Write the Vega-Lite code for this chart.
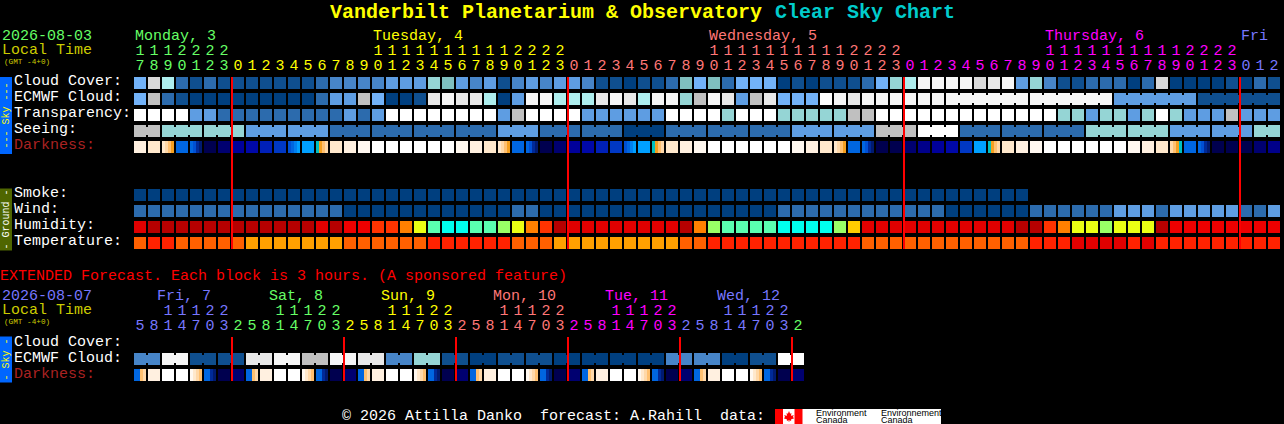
{"$schema":"https://vega.github.io/schema/vega-lite/v6.json","width":1284,"height":424,"autosize":{"type":"fit","contains":"padding"},"padding":0,"background":"#000000","config":{"view":{"stroke":null}},
"datasets":{"digits":[
{"r":"H1","i":0,"t":"7","k":"g"},{"r":"H1","i":1,"t":"8","k":"g"},{"r":"H1","i":2,"t":"9","k":"g"},{"r":"H1","i":3,"t":"0","k":"g"},{"r":"H1","i":4,"t":"1","k":"g"},{"r":"H1","i":5,"t":"2","k":"g"},{"r":"H1","i":6,"t":"3","k":"g"},
{"r":"H1","i":7,"t":"0","k":"y"},{"r":"H1","i":8,"t":"1","k":"y"},{"r":"H1","i":9,"t":"2","k":"y"},{"r":"H1","i":10,"t":"3","k":"y"},{"r":"H1","i":11,"t":"4","k":"y"},{"r":"H1","i":12,"t":"5","k":"y"},{"r":"H1","i":13,"t":"6","k":"y"},{"r":"H1","i":14,"t":"7","k":"y"},{"r":"H1","i":15,"t":"8","k":"y"},{"r":"H1","i":16,"t":"9","k":"y"},{"r":"H1","i":17,"t":"0","k":"y"},{"r":"H1","i":18,"t":"1","k":"y"},{"r":"H1","i":19,"t":"2","k":"y"},{"r":"H1","i":20,"t":"3","k":"y"},{"r":"H1","i":21,"t":"4","k":"y"},{"r":"H1","i":22,"t":"5","k":"y"},{"r":"H1","i":23,"t":"6","k":"y"},{"r":"H1","i":24,"t":"7","k":"y"},{"r":"H1","i":25,"t":"8","k":"y"},{"r":"H1","i":26,"t":"9","k":"y"},{"r":"H1","i":27,"t":"0","k":"y"},{"r":"H1","i":28,"t":"1","k":"y"},{"r":"H1","i":29,"t":"2","k":"y"},{"r":"H1","i":30,"t":"3","k":"y"},
{"r":"H1","i":31,"t":"0","k":"s"},{"r":"H1","i":32,"t":"1","k":"s"},{"r":"H1","i":33,"t":"2","k":"s"},{"r":"H1","i":34,"t":"3","k":"s"},{"r":"H1","i":35,"t":"4","k":"s"},{"r":"H1","i":36,"t":"5","k":"s"},{"r":"H1","i":37,"t":"6","k":"s"},{"r":"H1","i":38,"t":"7","k":"s"},{"r":"H1","i":39,"t":"8","k":"s"},{"r":"H1","i":40,"t":"9","k":"s"},{"r":"H1","i":41,"t":"0","k":"s"},{"r":"H1","i":42,"t":"1","k":"s"},{"r":"H1","i":43,"t":"2","k":"s"},{"r":"H1","i":44,"t":"3","k":"s"},{"r":"H1","i":45,"t":"4","k":"s"},{"r":"H1","i":46,"t":"5","k":"s"},{"r":"H1","i":47,"t":"6","k":"s"},{"r":"H1","i":48,"t":"7","k":"s"},{"r":"H1","i":49,"t":"8","k":"s"},{"r":"H1","i":50,"t":"9","k":"s"},{"r":"H1","i":51,"t":"0","k":"s"},{"r":"H1","i":52,"t":"1","k":"s"},{"r":"H1","i":53,"t":"2","k":"s"},{"r":"H1","i":54,"t":"3","k":"s"},
{"r":"H1","i":55,"t":"0","k":"m"},{"r":"H1","i":56,"t":"1","k":"m"},{"r":"H1","i":57,"t":"2","k":"m"},{"r":"H1","i":58,"t":"3","k":"m"},{"r":"H1","i":59,"t":"4","k":"m"},{"r":"H1","i":60,"t":"5","k":"m"},{"r":"H1","i":61,"t":"6","k":"m"},{"r":"H1","i":62,"t":"7","k":"m"},{"r":"H1","i":63,"t":"8","k":"m"},{"r":"H1","i":64,"t":"9","k":"m"},{"r":"H1","i":65,"t":"0","k":"m"},{"r":"H1","i":66,"t":"1","k":"m"},{"r":"H1","i":67,"t":"2","k":"m"},{"r":"H1","i":68,"t":"3","k":"m"},{"r":"H1","i":69,"t":"4","k":"m"},{"r":"H1","i":70,"t":"5","k":"m"},{"r":"H1","i":71,"t":"6","k":"m"},{"r":"H1","i":72,"t":"7","k":"m"},{"r":"H1","i":73,"t":"8","k":"m"},{"r":"H1","i":74,"t":"9","k":"m"},{"r":"H1","i":75,"t":"0","k":"m"},{"r":"H1","i":76,"t":"1","k":"m"},{"r":"H1","i":77,"t":"2","k":"m"},{"r":"H1","i":78,"t":"3","k":"m"},
{"r":"H1","i":79,"t":"0","k":"v"},{"r":"H1","i":80,"t":"1","k":"v"},{"r":"H1","i":81,"t":"2","k":"v"},
{"r":"H2","i":0,"t":"1","k":"g"},{"r":"H2","i":1,"t":"1","k":"g"},{"r":"H2","i":2,"t":"1","k":"g"},{"r":"H2","i":3,"t":"2","k":"g"},{"r":"H2","i":4,"t":"2","k":"g"},{"r":"H2","i":5,"t":"2","k":"g"},{"r":"H2","i":6,"t":"2","k":"g"},
{"r":"H2","i":17,"t":"1","k":"y"},{"r":"H2","i":18,"t":"1","k":"y"},{"r":"H2","i":19,"t":"1","k":"y"},{"r":"H2","i":20,"t":"1","k":"y"},{"r":"H2","i":21,"t":"1","k":"y"},{"r":"H2","i":22,"t":"1","k":"y"},{"r":"H2","i":23,"t":"1","k":"y"},{"r":"H2","i":24,"t":"1","k":"y"},{"r":"H2","i":25,"t":"1","k":"y"},{"r":"H2","i":26,"t":"1","k":"y"},{"r":"H2","i":27,"t":"2","k":"y"},{"r":"H2","i":28,"t":"2","k":"y"},{"r":"H2","i":29,"t":"2","k":"y"},{"r":"H2","i":30,"t":"2","k":"y"},
{"r":"H2","i":41,"t":"1","k":"s"},{"r":"H2","i":42,"t":"1","k":"s"},{"r":"H2","i":43,"t":"1","k":"s"},{"r":"H2","i":44,"t":"1","k":"s"},{"r":"H2","i":45,"t":"1","k":"s"},{"r":"H2","i":46,"t":"1","k":"s"},{"r":"H2","i":47,"t":"1","k":"s"},{"r":"H2","i":48,"t":"1","k":"s"},{"r":"H2","i":49,"t":"1","k":"s"},{"r":"H2","i":50,"t":"1","k":"s"},{"r":"H2","i":51,"t":"2","k":"s"},{"r":"H2","i":52,"t":"2","k":"s"},{"r":"H2","i":53,"t":"2","k":"s"},{"r":"H2","i":54,"t":"2","k":"s"},
{"r":"H2","i":65,"t":"1","k":"m"},{"r":"H2","i":66,"t":"1","k":"m"},{"r":"H2","i":67,"t":"1","k":"m"},{"r":"H2","i":68,"t":"1","k":"m"},{"r":"H2","i":69,"t":"1","k":"m"},{"r":"H2","i":70,"t":"1","k":"m"},{"r":"H2","i":71,"t":"1","k":"m"},{"r":"H2","i":72,"t":"1","k":"m"},{"r":"H2","i":73,"t":"1","k":"m"},{"r":"H2","i":74,"t":"1","k":"m"},{"r":"H2","i":75,"t":"2","k":"m"},{"r":"H2","i":76,"t":"2","k":"m"},{"r":"H2","i":77,"t":"2","k":"m"},{"r":"H2","i":78,"t":"2","k":"m"},
{"r":"X2","i":2,"t":"1","k":"v"},{"r":"X2","i":3,"t":"1","k":"v"},{"r":"X2","i":4,"t":"1","k":"v"},{"r":"X2","i":5,"t":"2","k":"v"},{"r":"X2","i":6,"t":"2","k":"v"},
{"r":"X2","i":10,"t":"1","k":"g"},{"r":"X2","i":11,"t":"1","k":"g"},{"r":"X2","i":12,"t":"1","k":"g"},{"r":"X2","i":13,"t":"2","k":"g"},{"r":"X2","i":14,"t":"2","k":"g"},
{"r":"X2","i":18,"t":"1","k":"y"},{"r":"X2","i":19,"t":"1","k":"y"},{"r":"X2","i":20,"t":"1","k":"y"},{"r":"X2","i":21,"t":"2","k":"y"},{"r":"X2","i":22,"t":"2","k":"y"},
{"r":"X2","i":26,"t":"1","k":"s"},{"r":"X2","i":27,"t":"1","k":"s"},{"r":"X2","i":28,"t":"1","k":"s"},{"r":"X2","i":29,"t":"2","k":"s"},{"r":"X2","i":30,"t":"2","k":"s"},
{"r":"X2","i":34,"t":"1","k":"m"},{"r":"X2","i":35,"t":"1","k":"m"},{"r":"X2","i":36,"t":"1","k":"m"},{"r":"X2","i":37,"t":"2","k":"m"},{"r":"X2","i":38,"t":"2","k":"m"},
{"r":"X2","i":42,"t":"1","k":"v"},{"r":"X2","i":43,"t":"1","k":"v"},{"r":"X2","i":44,"t":"1","k":"v"},{"r":"X2","i":45,"t":"2","k":"v"},{"r":"X2","i":46,"t":"2","k":"v"},
{"r":"X1","i":0,"t":"5","k":"v"},{"r":"X1","i":1,"t":"8","k":"v"},{"r":"X1","i":2,"t":"1","k":"v"},{"r":"X1","i":3,"t":"4","k":"v"},{"r":"X1","i":4,"t":"7","k":"v"},{"r":"X1","i":5,"t":"0","k":"v"},{"r":"X1","i":6,"t":"3","k":"v"},
{"r":"X1","i":7,"t":"2","k":"g"},{"r":"X1","i":8,"t":"5","k":"g"},{"r":"X1","i":9,"t":"8","k":"g"},{"r":"X1","i":10,"t":"1","k":"g"},{"r":"X1","i":11,"t":"4","k":"g"},{"r":"X1","i":12,"t":"7","k":"g"},{"r":"X1","i":13,"t":"0","k":"g"},{"r":"X1","i":14,"t":"3","k":"g"},
{"r":"X1","i":15,"t":"2","k":"y"},{"r":"X1","i":16,"t":"5","k":"y"},{"r":"X1","i":17,"t":"8","k":"y"},{"r":"X1","i":18,"t":"1","k":"y"},{"r":"X1","i":19,"t":"4","k":"y"},{"r":"X1","i":20,"t":"7","k":"y"},{"r":"X1","i":21,"t":"0","k":"y"},{"r":"X1","i":22,"t":"3","k":"y"},
{"r":"X1","i":23,"t":"2","k":"s"},{"r":"X1","i":24,"t":"5","k":"s"},{"r":"X1","i":25,"t":"8","k":"s"},{"r":"X1","i":26,"t":"1","k":"s"},{"r":"X1","i":27,"t":"4","k":"s"},{"r":"X1","i":28,"t":"7","k":"s"},{"r":"X1","i":29,"t":"0","k":"s"},{"r":"X1","i":30,"t":"3","k":"s"},
{"r":"X1","i":31,"t":"2","k":"m"},{"r":"X1","i":32,"t":"5","k":"m"},{"r":"X1","i":33,"t":"8","k":"m"},{"r":"X1","i":34,"t":"1","k":"m"},{"r":"X1","i":35,"t":"4","k":"m"},{"r":"X1","i":36,"t":"7","k":"m"},{"r":"X1","i":37,"t":"0","k":"m"},{"r":"X1","i":38,"t":"3","k":"m"},
{"r":"X1","i":39,"t":"2","k":"v"},{"r":"X1","i":40,"t":"5","k":"v"},{"r":"X1","i":41,"t":"8","k":"v"},{"r":"X1","i":42,"t":"1","k":"v"},{"r":"X1","i":43,"t":"4","k":"v"},{"r":"X1","i":44,"t":"7","k":"v"},{"r":"X1","i":45,"t":"0","k":"v"},{"r":"X1","i":46,"t":"3","k":"v"},{"r":"X1","i":47,"t":"2","k":"g"}
]},
"encoding":{"x":{"field":"i","type":"ordinal","axis":null,"scale":{"type":"band","domain":[-10,-9,-8,-7,-6,-5,-4,-3,-2,-1,0,1,2,3,4,5,6,7,8,9,10,11,12,13,14,15,16,17,18,19,20,21,22,23,24,25,26,27,28,29,30,31,32,33,34,35,36,37,38,39,40,41,42,43,44,45,46,47,48,49,50,51,52,53,54,55,56,57,58,59,60,61,62,63,64,65,66,67,68,69,70,71,72,73,74,75,76,77,78,79,80,81,82],"range":[-6,1294],"paddingInner":0.142857,"paddingOuter":0}},
"y":{"field":"r","type":"ordinal","axis":null,"scale":{"type":"band","domain":[0,1,2,"T",4,5,6,7,"D1",9,10,11,"H2",13,14,"G1","H1",17,18,19,"CC",21,22,23,"EC",25,26,27,"TR",29,30,31,"SE",33,34,35,"DK",37,38,39,"RL",41,42,43,44,45,46,47,"SM",49,50,51,"WI",53,"GB",55,"HU",57,58,59,"TE",61,62,63,64,65,66,67,"XT",69,70,71,72,"D2",74,75,76,"X2",78,79,"G2","X1",82,83,84,"XC",86,87,88,"XE",90,91,92,"XD",94,95,96,97,98,99,100,101,"L1","F","L2",105],"range":[1,425],"paddingInner":0,"paddingOuter":0}},
"color":{"field":"k","type":"nominal","legend":null,"scale":{"domain":["0","1","2","3","4","5","6","7","8","9","A","B","C","W","e","d","E","O","F","Y","L","H","G","c","p","q","r","d1","d2","d3","d4","d5","d6","b0","b1","b2","b3","b4","b5","b6","b7","b8","b9","n","t","k1","k2","w","g","y","s","m","v","l","R","x","C2","K","S","U"],"range":["#003f7f","#0f4f8f","#2c6bad","#4785c8","#5e9de2","#72b2f8","#7fbfbf","#95d5d5","#aeeeee","#c0c0c0","#d9d9d9","#e8e8e8","#f6f6f6","#ffffff","#e00000","#b60000","#ee0000","#ff3300","#ff8000","#ffcc00","#eaff14","#99ff66","#5affb0","#00ffee","#ff6000","#ff2200","#ffa000","#fff8f0","#fff0e0","#ffe8cc","#ffd8a8","#ffc070","#f5a020","#00a0ff","#0080f0","#0066e0","#0050d4","#0038c4","#0020b8","#0008a8","#00009a","#00008a","#000070","#00004f","#00c0c0","#002a98","#001a70","#ffffff","#66ff66","#ffff00","#ff7777","#ff00ff","#7777ff","#cccc00","#ff0000","#aa2222","#00cccc","#000000","#0066ff","#4f6600"]}}},
"layer":[
{"mark":{"type":"rect","height":12},"data":{"values":[
{"r":"CC","i":0,"k":"5"},{"r":"CC","i":1,"k":"A"},{"r":"CC","i":2,"k":"8"},{"r":"CC","i":3,"k":"2"},{"r":"CC","i":4,"k":"1"},{"r":"CC","i":5,"k":"2"},{"r":"CC","i":6,"k":"1"},{"r":"CC","i":7,"k":"1"},{"r":"CC","i":8,"k":"1"},{"r":"CC","i":9,"k":"1"},{"r":"CC","i":10,"k":"1"},{"r":"CC","i":11,"k":"1"},{"r":"CC","i":12,"k":"1"},{"r":"CC","i":13,"k":"2"},{"r":"CC","i":14,"k":"3"},{"r":"CC","i":15,"k":"3"},{"r":"CC","i":16,"k":"3"},{"r":"CC","i":17,"k":"3"},{"r":"CC","i":18,"k":"4"},{"r":"CC","i":19,"k":"4"},{"r":"CC","i":20,"k":"4"},{"r":"CC","i":21,"k":"7"},{"r":"CC","i":22,"k":"6"},{"r":"CC","i":23,"k":"4"},{"r":"CC","i":24,"k":"3"},{"r":"CC","i":25,"k":"4"},{"r":"CC","i":26,"k":"1"},{"r":"CC","i":27,"k":"3"},{"r":"CC","i":28,"k":"4"},{"r":"CC","i":29,"k":"3"},{"r":"CC","i":30,"k":"4"},{"r":"CC","i":31,"k":"4"},{"r":"CC","i":32,"k":"3"},{"r":"CC","i":33,"k":"1"},{"r":"CC","i":34,"k":"1"},{"r":"CC","i":35,"k":"0"},{"r":"CC","i":36,"k":"1"},{"r":"CC","i":37,"k":"1"},{"r":"CC","i":38,"k":"2"},{"r":"CC","i":39,"k":"6"},{"r":"CC","i":40,"k":"5"},{"r":"CC","i":41,"k":"6"},{"r":"CC","i":42,"k":"2"},{"r":"CC","i":43,"k":"5"},{"r":"CC","i":44,"k":"5"},{"r":"CC","i":45,"k":"5"},{"r":"CC","i":46,"k":"0"},{"r":"CC","i":47,"k":"1"},{"r":"CC","i":48,"k":"0"},{"r":"CC","i":49,"k":"1"},{"r":"CC","i":50,"k":"1"},{"r":"CC","i":51,"k":"1"},{"r":"CC","i":52,"k":"2"},{"r":"CC","i":53,"k":"5"},{"r":"CC","i":54,"k":"7"},{"r":"CC","i":55,"k":"8"},{"r":"CC","i":56,"k":"C"},{"r":"CC","i":57,"k":"C"},{"r":"CC","i":58,"k":"C"},{"r":"CC","i":59,"k":"C"},{"r":"CC","i":60,"k":"A"},{"r":"CC","i":61,"k":"B"},{"r":"CC","i":62,"k":"C"},{"r":"CC","i":63,"k":"4"},{"r":"CC","i":64,"k":"7"},{"r":"CC","i":65,"k":"3"},{"r":"CC","i":66,"k":"1"},{"r":"CC","i":67,"k":"1"},{"r":"CC","i":68,"k":"2"},{"r":"CC","i":69,"k":"2"},{"r":"CC","i":70,"k":"2"},{"r":"CC","i":71,"k":"0"},{"r":"CC","i":72,"k":"2"},{"r":"CC","i":73,"k":"A"},{"r":"CC","i":74,"k":"0"},{"r":"CC","i":75,"k":"0"},{"r":"CC","i":76,"k":"0"},{"r":"CC","i":77,"k":"0"},{"r":"CC","i":78,"k":"1"},{"r":"CC","i":79,"k":"0"},{"r":"CC","i":80,"k":"2"},{"r":"CC","i":81,"k":"1"},
{"r":"EC","i":0,"k":"5"},{"r":"EC","i":1,"k":"9"},{"r":"EC","i":2,"k":"2"},{"r":"EC","i":3,"k":"1"},{"r":"EC","i":4,"k":"0"},{"r":"EC","i":5,"k":"0"},{"r":"EC","i":6,"k":"0"},{"r":"EC","i":7,"k":"0"},{"r":"EC","i":8,"k":"0"},{"r":"EC","i":9,"k":"0"},{"r":"EC","i":10,"k":"0"},{"r":"EC","i":11,"k":"0"},{"r":"EC","i":12,"k":"0"},{"r":"EC","i":13,"k":"2"},{"r":"EC","i":14,"k":"4"},{"r":"EC","i":15,"k":"4"},{"r":"EC","i":16,"k":"9"},{"r":"EC","i":17,"k":"5"},{"r":"EC","i":18,"k":"0"},{"r":"EC","i":19,"k":"0"},{"r":"EC","i":20,"k":"1"},{"r":"EC","i":21,"k":"B"},{"r":"EC","i":22,"k":"C"},{"r":"EC","i":23,"k":"B"},{"r":"EC","i":24,"k":"B"},{"r":"EC","i":25,"k":"8"},{"r":"EC","i":26,"k":"0"},{"r":"EC","i":27,"k":"4"},{"r":"EC","i":28,"k":"C"},{"r":"EC","i":29,"k":"C"},{"r":"EC","i":30,"k":"8"},{"r":"EC","i":31,"k":"8"},{"r":"EC","i":32,"k":"8"},{"r":"EC","i":33,"k":"B"},{"r":"EC","i":34,"k":"C"},{"r":"EC","i":35,"k":"B"},{"r":"EC","i":36,"k":"8"},{"r":"EC","i":37,"k":"C"},{"r":"EC","i":38,"k":"C"},{"r":"EC","i":39,"k":"7"},{"r":"EC","i":40,"k":"9"},{"r":"EC","i":41,"k":"C"},{"r":"EC","i":42,"k":"B"},{"r":"EC","i":43,"k":"4"},{"r":"EC","i":44,"k":"9"},{"r":"EC","i":45,"k":"B"},{"r":"EC","i":46,"k":"5"},{"r":"EC","i":47,"k":"5"},{"r":"EC","i":48,"k":"5"},{"r":"EC","i":49,"k":"W"},{"r":"EC","i":50,"k":"C"},{"r":"EC","i":51,"k":"B"},{"r":"EC","i":52,"k":"C"},{"r":"EC","i":53,"k":"C"},{"r":"EC","i":54,"k":"C"},{"r":"EC","i":55,"k":"C"},{"r":"EC","i":56,"k":"C"},{"r":"EC","i":57,"k":"C"},{"r":"EC","i":58,"k":"C"},{"r":"EC","i":59,"k":"C"},{"r":"EC","i":60,"k":"C"},{"r":"EC","i":61,"k":"C"},{"r":"EC","i":62,"k":"C"},{"r":"EC","i":63,"k":"C"},{"r":"EC","i":64,"k":"C"},{"r":"EC","i":65,"k":"C"},{"r":"EC","i":66,"k":"C"},{"r":"EC","i":67,"k":"C"},{"r":"EC","i":68,"k":"C"},{"r":"EC","i":69,"k":"C"},{"r":"EC","i":70,"k":"4"},{"r":"EC","i":71,"k":"4"},{"r":"EC","i":72,"k":"4"},{"r":"EC","i":73,"k":"4"},{"r":"EC","i":74,"k":"4"},{"r":"EC","i":75,"k":"4"},{"r":"EC","i":76,"k":"1"},{"r":"EC","i":77,"k":"1"},{"r":"EC","i":78,"k":"1"},{"r":"EC","i":79,"k":"1"},{"r":"EC","i":80,"k":"1"},{"r":"EC","i":81,"k":"1"},
{"r":"TR","i":0,"k":"W"},{"r":"TR","i":1,"k":"W"},{"r":"TR","i":2,"k":"W"},{"r":"TR","i":3,"k":"W"},{"r":"TR","i":4,"k":"4"},{"r":"TR","i":5,"k":"4"},{"r":"TR","i":6,"k":"2"},{"r":"TR","i":7,"k":"2"},{"r":"TR","i":8,"k":"2"},{"r":"TR","i":9,"k":"2"},{"r":"TR","i":10,"k":"2"},{"r":"TR","i":11,"k":"2"},{"r":"TR","i":12,"k":"2"},{"r":"TR","i":13,"k":"2"},{"r":"TR","i":14,"k":"2"},{"r":"TR","i":15,"k":"4"},{"r":"TR","i":16,"k":"2"},{"r":"TR","i":17,"k":"4"},{"r":"TR","i":18,"k":"W"},{"r":"TR","i":19,"k":"W"},{"r":"TR","i":20,"k":"W"},{"r":"TR","i":21,"k":"W"},{"r":"TR","i":22,"k":"W"},{"r":"TR","i":23,"k":"W"},{"r":"TR","i":24,"k":"W"},{"r":"TR","i":25,"k":"W"},{"r":"TR","i":26,"k":"4"},{"r":"TR","i":27,"k":"9"},{"r":"TR","i":28,"k":"W"},{"r":"TR","i":29,"k":"W"},{"r":"TR","i":30,"k":"W"},{"r":"TR","i":31,"k":"W"},{"r":"TR","i":32,"k":"4"},{"r":"TR","i":33,"k":"4"},{"r":"TR","i":34,"k":"4"},{"r":"TR","i":35,"k":"4"},{"r":"TR","i":36,"k":"4"},{"r":"TR","i":37,"k":"4"},{"r":"TR","i":38,"k":"W"},{"r":"TR","i":39,"k":"W"},{"r":"TR","i":40,"k":"W"},{"r":"TR","i":41,"k":"W"},{"r":"TR","i":42,"k":"7"},{"r":"TR","i":43,"k":"W"},{"r":"TR","i":44,"k":"W"},{"r":"TR","i":45,"k":"W"},{"r":"TR","i":46,"k":"7"},{"r":"TR","i":47,"k":"7"},{"r":"TR","i":48,"k":"7"},{"r":"TR","i":49,"k":"7"},{"r":"TR","i":50,"k":"7"},{"r":"TR","i":51,"k":"9"},{"r":"TR","i":52,"k":"9"},{"r":"TR","i":53,"k":"W"},{"r":"TR","i":54,"k":"W"},{"r":"TR","i":55,"k":"W"},{"r":"TR","i":56,"k":"W"},{"r":"TR","i":57,"k":"W"},{"r":"TR","i":58,"k":"W"},{"r":"TR","i":59,"k":"W"},{"r":"TR","i":60,"k":"W"},{"r":"TR","i":61,"k":"W"},{"r":"TR","i":62,"k":"W"},{"r":"TR","i":63,"k":"W"},{"r":"TR","i":64,"k":"W"},{"r":"TR","i":65,"k":"W"},{"r":"TR","i":66,"k":"7"},{"r":"TR","i":67,"k":"7"},{"r":"TR","i":68,"k":"4"},{"r":"TR","i":69,"k":"7"},{"r":"TR","i":70,"k":"7"},{"r":"TR","i":71,"k":"4"},{"r":"TR","i":72,"k":"7"},{"r":"TR","i":73,"k":"W"},{"r":"TR","i":74,"k":"7"},{"r":"TR","i":75,"k":"4"},{"r":"TR","i":76,"k":"4"},{"r":"TR","i":77,"k":"4"},{"r":"TR","i":78,"k":"9"},{"r":"TR","i":79,"k":"4"},{"r":"TR","i":80,"k":"4"},{"r":"TR","i":81,"k":"4"},
{"r":"SE","i":0,"k":"9"},{"r":"SE","i":1,"k":"9"},{"r":"SE","i":2,"k":"7"},{"r":"SE","i":3,"k":"7"},{"r":"SE","i":4,"k":"7"},{"r":"SE","i":5,"k":"7"},{"r":"SE","i":6,"k":"7"},{"r":"SE","i":7,"k":"7"},{"r":"SE","i":8,"k":"4"},{"r":"SE","i":9,"k":"4"},{"r":"SE","i":10,"k":"4"},{"r":"SE","i":11,"k":"4"},{"r":"SE","i":12,"k":"4"},{"r":"SE","i":13,"k":"4"},{"r":"SE","i":14,"k":"2"},{"r":"SE","i":15,"k":"2"},{"r":"SE","i":16,"k":"2"},{"r":"SE","i":17,"k":"2"},{"r":"SE","i":18,"k":"2"},{"r":"SE","i":19,"k":"2"},{"r":"SE","i":20,"k":"2"},{"r":"SE","i":21,"k":"2"},{"r":"SE","i":22,"k":"2"},{"r":"SE","i":23,"k":"2"},{"r":"SE","i":24,"k":"2"},{"r":"SE","i":25,"k":"2"},{"r":"SE","i":26,"k":"4"},{"r":"SE","i":27,"k":"4"},{"r":"SE","i":28,"k":"4"},{"r":"SE","i":29,"k":"2"},{"r":"SE","i":30,"k":"2"},{"r":"SE","i":31,"k":"2"},{"r":"SE","i":32,"k":"2"},{"r":"SE","i":33,"k":"2"},{"r":"SE","i":34,"k":"2"},{"r":"SE","i":35,"k":"0"},{"r":"SE","i":36,"k":"0"},{"r":"SE","i":37,"k":"0"},{"r":"SE","i":38,"k":"2"},{"r":"SE","i":39,"k":"2"},{"r":"SE","i":40,"k":"2"},{"r":"SE","i":41,"k":"2"},{"r":"SE","i":42,"k":"2"},{"r":"SE","i":43,"k":"2"},{"r":"SE","i":44,"k":"2"},{"r":"SE","i":45,"k":"2"},{"r":"SE","i":46,"k":"2"},{"r":"SE","i":47,"k":"4"},{"r":"SE","i":48,"k":"4"},{"r":"SE","i":49,"k":"4"},{"r":"SE","i":50,"k":"4"},{"r":"SE","i":51,"k":"4"},{"r":"SE","i":52,"k":"4"},{"r":"SE","i":53,"k":"9"},{"r":"SE","i":54,"k":"9"},{"r":"SE","i":55,"k":"9"},{"r":"SE","i":56,"k":"W"},{"r":"SE","i":57,"k":"W"},{"r":"SE","i":58,"k":"W"},{"r":"SE","i":59,"k":"2"},{"r":"SE","i":60,"k":"2"},{"r":"SE","i":61,"k":"2"},{"r":"SE","i":62,"k":"2"},{"r":"SE","i":63,"k":"2"},{"r":"SE","i":64,"k":"2"},{"r":"SE","i":65,"k":"2"},{"r":"SE","i":66,"k":"2"},{"r":"SE","i":67,"k":"2"},{"r":"SE","i":68,"k":"7"},{"r":"SE","i":69,"k":"7"},{"r":"SE","i":70,"k":"7"},{"r":"SE","i":71,"k":"7"},{"r":"SE","i":72,"k":"7"},{"r":"SE","i":73,"k":"7"},{"r":"SE","i":74,"k":"4"},{"r":"SE","i":75,"k":"4"},{"r":"SE","i":76,"k":"4"},{"r":"SE","i":77,"k":"4"},{"r":"SE","i":78,"k":"4"},{"r":"SE","i":79,"k":"4"},{"r":"SE","i":80,"k":"7"},{"r":"SE","i":81,"k":"7"},
{"r":"DK","i":0,"k":"d2"},{"r":"DK","i":1,"k":"d3"},{"r":"DK","i":3,"k":"b2"},{"r":"DK","i":5,"k":"n"},{"r":"DK","i":6,"k":"b9"},{"r":"DK","i":7,"k":"b7"},{"r":"DK","i":8,"k":"b6"},{"r":"DK","i":9,"k":"b5"},{"r":"DK","i":10,"k":"b4"},{"r":"DK","i":12,"k":"b0"},{"r":"DK","i":14,"k":"d3"},{"r":"DK","i":15,"k":"d2"},{"r":"DK","i":16,"k":"d1"},{"r":"DK","i":17,"k":"W"},{"r":"DK","i":18,"k":"W"},{"r":"DK","i":19,"k":"W"},{"r":"DK","i":20,"k":"W"},{"r":"DK","i":21,"k":"W"},{"r":"DK","i":22,"k":"W"},{"r":"DK","i":23,"k":"d1"},{"r":"DK","i":24,"k":"d2"},{"r":"DK","i":25,"k":"d3"},{"r":"DK","i":27,"k":"b2"},{"r":"DK","i":29,"k":"n"},{"r":"DK","i":30,"k":"b9"},{"r":"DK","i":31,"k":"b7"},{"r":"DK","i":32,"k":"b6"},{"r":"DK","i":33,"k":"b5"},{"r":"DK","i":34,"k":"b4"},{"r":"DK","i":36,"k":"b0"},{"r":"DK","i":38,"k":"d3"},{"r":"DK","i":39,"k":"d2"},{"r":"DK","i":40,"k":"d1"},{"r":"DK","i":41,"k":"W"},{"r":"DK","i":42,"k":"W"},{"r":"DK","i":43,"k":"W"},{"r":"DK","i":44,"k":"W"},{"r":"DK","i":45,"k":"W"},{"r":"DK","i":46,"k":"W"},{"r":"DK","i":47,"k":"d1"},{"r":"DK","i":48,"k":"d2"},{"r":"DK","i":49,"k":"d3"},{"r":"DK","i":51,"k":"b2"},{"r":"DK","i":53,"k":"n"},{"r":"DK","i":54,"k":"n"},{"r":"DK","i":55,"k":"b9"},{"r":"DK","i":56,"k":"b8"},{"r":"DK","i":57,"k":"b7"},{"r":"DK","i":58,"k":"b6"},{"r":"DK","i":59,"k":"b4"},{"r":"DK","i":60,"k":"b0"},{"r":"DK","i":62,"k":"d3"},{"r":"DK","i":63,"k":"d2"},{"r":"DK","i":64,"k":"d1"},{"r":"DK","i":65,"k":"W"},{"r":"DK","i":66,"k":"W"},{"r":"DK","i":67,"k":"W"},{"r":"DK","i":68,"k":"W"},{"r":"DK","i":69,"k":"W"},{"r":"DK","i":70,"k":"W"},{"r":"DK","i":71,"k":"d1"},{"r":"DK","i":72,"k":"d2"},{"r":"DK","i":73,"k":"d3"},{"r":"DK","i":75,"k":"b2"},{"r":"DK","i":77,"k":"n"},{"r":"DK","i":78,"k":"n"},{"r":"DK","i":79,"k":"n"},{"r":"DK","i":80,"k":"b9"},{"r":"DK","i":81,"k":"b8"},
{"r":"SM","i":0,"k":"0"},{"r":"SM","i":1,"k":"0"},{"r":"SM","i":2,"k":"0"},{"r":"SM","i":3,"k":"0"},{"r":"SM","i":4,"k":"0"},{"r":"SM","i":5,"k":"0"},{"r":"SM","i":6,"k":"0"},{"r":"SM","i":7,"k":"0"},{"r":"SM","i":8,"k":"0"},{"r":"SM","i":9,"k":"0"},{"r":"SM","i":10,"k":"0"},{"r":"SM","i":11,"k":"0"},{"r":"SM","i":12,"k":"0"},{"r":"SM","i":13,"k":"0"},{"r":"SM","i":14,"k":"0"},{"r":"SM","i":15,"k":"0"},{"r":"SM","i":16,"k":"0"},{"r":"SM","i":17,"k":"0"},{"r":"SM","i":18,"k":"0"},{"r":"SM","i":19,"k":"0"},{"r":"SM","i":20,"k":"0"},{"r":"SM","i":21,"k":"0"},{"r":"SM","i":22,"k":"0"},{"r":"SM","i":23,"k":"0"},{"r":"SM","i":24,"k":"0"},{"r":"SM","i":25,"k":"0"},{"r":"SM","i":26,"k":"0"},{"r":"SM","i":27,"k":"0"},{"r":"SM","i":28,"k":"0"},{"r":"SM","i":29,"k":"0"},{"r":"SM","i":30,"k":"0"},{"r":"SM","i":31,"k":"0"},{"r":"SM","i":32,"k":"0"},{"r":"SM","i":33,"k":"0"},{"r":"SM","i":34,"k":"0"},{"r":"SM","i":35,"k":"0"},{"r":"SM","i":36,"k":"0"},{"r":"SM","i":37,"k":"0"},{"r":"SM","i":38,"k":"0"},{"r":"SM","i":39,"k":"0"},{"r":"SM","i":40,"k":"0"},{"r":"SM","i":41,"k":"0"},{"r":"SM","i":42,"k":"0"},{"r":"SM","i":43,"k":"0"},{"r":"SM","i":44,"k":"0"},{"r":"SM","i":45,"k":"0"},{"r":"SM","i":46,"k":"0"},{"r":"SM","i":47,"k":"0"},{"r":"SM","i":48,"k":"0"},{"r":"SM","i":49,"k":"0"},{"r":"SM","i":50,"k":"0"},{"r":"SM","i":51,"k":"0"},{"r":"SM","i":52,"k":"0"},{"r":"SM","i":53,"k":"0"},{"r":"SM","i":54,"k":"0"},{"r":"SM","i":55,"k":"0"},{"r":"SM","i":56,"k":"0"},{"r":"SM","i":57,"k":"0"},{"r":"SM","i":58,"k":"0"},{"r":"SM","i":59,"k":"0"},{"r":"SM","i":60,"k":"0"},{"r":"SM","i":61,"k":"0"},{"r":"SM","i":62,"k":"0"},{"r":"SM","i":63,"k":"0"},
{"r":"WI","i":0,"k":"2"},{"r":"WI","i":1,"k":"2"},{"r":"WI","i":2,"k":"2"},{"r":"WI","i":3,"k":"2"},{"r":"WI","i":4,"k":"2"},{"r":"WI","i":5,"k":"2"},{"r":"WI","i":6,"k":"2"},{"r":"WI","i":7,"k":"2"},{"r":"WI","i":8,"k":"2"},{"r":"WI","i":9,"k":"2"},{"r":"WI","i":10,"k":"2"},{"r":"WI","i":11,"k":"2"},{"r":"WI","i":12,"k":"2"},{"r":"WI","i":13,"k":"2"},{"r":"WI","i":14,"k":"2"},{"r":"WI","i":15,"k":"0"},{"r":"WI","i":16,"k":"0"},{"r":"WI","i":17,"k":"0"},{"r":"WI","i":18,"k":"0"},{"r":"WI","i":19,"k":"0"},{"r":"WI","i":20,"k":"0"},{"r":"WI","i":21,"k":"0"},{"r":"WI","i":22,"k":"0"},{"r":"WI","i":23,"k":"0"},{"r":"WI","i":24,"k":"0"},{"r":"WI","i":25,"k":"0"},{"r":"WI","i":26,"k":"0"},{"r":"WI","i":27,"k":"2"},{"r":"WI","i":28,"k":"2"},{"r":"WI","i":29,"k":"0"},{"r":"WI","i":30,"k":"0"},{"r":"WI","i":31,"k":"0"},{"r":"WI","i":32,"k":"0"},{"r":"WI","i":33,"k":"0"},{"r":"WI","i":34,"k":"0"},{"r":"WI","i":35,"k":"0"},{"r":"WI","i":36,"k":"0"},{"r":"WI","i":37,"k":"0"},{"r":"WI","i":38,"k":"0"},{"r":"WI","i":39,"k":"0"},{"r":"WI","i":40,"k":"0"},{"r":"WI","i":41,"k":"0"},{"r":"WI","i":42,"k":"0"},{"r":"WI","i":43,"k":"0"},{"r":"WI","i":44,"k":"0"},{"r":"WI","i":45,"k":"0"},{"r":"WI","i":46,"k":"2"},{"r":"WI","i":47,"k":"2"},{"r":"WI","i":48,"k":"2"},{"r":"WI","i":49,"k":"2"},{"r":"WI","i":50,"k":"2"},{"r":"WI","i":51,"k":"2"},{"r":"WI","i":52,"k":"2"},{"r":"WI","i":53,"k":"2"},{"r":"WI","i":54,"k":"2"},{"r":"WI","i":55,"k":"2"},{"r":"WI","i":56,"k":"2"},{"r":"WI","i":57,"k":"2"},{"r":"WI","i":58,"k":"0"},{"r":"WI","i":59,"k":"0"},{"r":"WI","i":60,"k":"0"},{"r":"WI","i":61,"k":"0"},{"r":"WI","i":62,"k":"0"},{"r":"WI","i":63,"k":"0"},{"r":"WI","i":64,"k":"2"},{"r":"WI","i":65,"k":"2"},{"r":"WI","i":66,"k":"2"},{"r":"WI","i":67,"k":"2"},{"r":"WI","i":68,"k":"2"},{"r":"WI","i":69,"k":"2"},{"r":"WI","i":70,"k":"4"},{"r":"WI","i":71,"k":"4"},{"r":"WI","i":72,"k":"4"},{"r":"WI","i":73,"k":"2"},{"r":"WI","i":74,"k":"4"},{"r":"WI","i":75,"k":"4"},{"r":"WI","i":76,"k":"4"},{"r":"WI","i":77,"k":"4"},{"r":"WI","i":78,"k":"4"},{"r":"WI","i":79,"k":"2"},{"r":"WI","i":80,"k":"2"},{"r":"WI","i":81,"k":"4"},
{"r":"HU","i":0,"k":"e"},{"r":"HU","i":1,"k":"d"},{"r":"HU","i":2,"k":"d"},{"r":"HU","i":3,"k":"d"},{"r":"HU","i":4,"k":"d"},{"r":"HU","i":5,"k":"d"},{"r":"HU","i":6,"k":"d"},{"r":"HU","i":7,"k":"d"},{"r":"HU","i":8,"k":"d"},{"r":"HU","i":9,"k":"d"},{"r":"HU","i":10,"k":"d"},{"r":"HU","i":11,"k":"d"},{"r":"HU","i":12,"k":"d"},{"r":"HU","i":13,"k":"e"},{"r":"HU","i":14,"k":"d"},{"r":"HU","i":15,"k":"E"},{"r":"HU","i":16,"k":"E"},{"r":"HU","i":17,"k":"O"},{"r":"HU","i":18,"k":"O"},{"r":"HU","i":19,"k":"F"},{"r":"HU","i":20,"k":"L"},{"r":"HU","i":21,"k":"G"},{"r":"HU","i":22,"k":"c"},{"r":"HU","i":23,"k":"c"},{"r":"HU","i":24,"k":"G"},{"r":"HU","i":25,"k":"G"},{"r":"HU","i":26,"k":"H"},{"r":"HU","i":27,"k":"L"},{"r":"HU","i":28,"k":"F"},{"r":"HU","i":29,"k":"O"},{"r":"HU","i":30,"k":"d"},{"r":"HU","i":31,"k":"e"},{"r":"HU","i":32,"k":"e"},{"r":"HU","i":33,"k":"e"},{"r":"HU","i":34,"k":"e"},{"r":"HU","i":35,"k":"e"},{"r":"HU","i":36,"k":"e"},{"r":"HU","i":37,"k":"e"},{"r":"HU","i":38,"k":"e"},{"r":"HU","i":39,"k":"d"},{"r":"HU","i":40,"k":"F"},{"r":"HU","i":41,"k":"H"},{"r":"HU","i":42,"k":"G"},{"r":"HU","i":43,"k":"G"},{"r":"HU","i":44,"k":"G"},{"r":"HU","i":45,"k":"G"},{"r":"HU","i":46,"k":"c"},{"r":"HU","i":47,"k":"c"},{"r":"HU","i":48,"k":"c"},{"r":"HU","i":49,"k":"c"},{"r":"HU","i":50,"k":"H"},{"r":"HU","i":51,"k":"Y"},{"r":"HU","i":52,"k":"e"},{"r":"HU","i":53,"k":"e"},{"r":"HU","i":54,"k":"e"},{"r":"HU","i":55,"k":"e"},{"r":"HU","i":56,"k":"e"},{"r":"HU","i":57,"k":"e"},{"r":"HU","i":58,"k":"e"},{"r":"HU","i":59,"k":"e"},{"r":"HU","i":60,"k":"e"},{"r":"HU","i":61,"k":"e"},{"r":"HU","i":62,"k":"e"},{"r":"HU","i":63,"k":"d"},{"r":"HU","i":64,"k":"d"},{"r":"HU","i":65,"k":"O"},{"r":"HU","i":66,"k":"F"},{"r":"HU","i":67,"k":"L"},{"r":"HU","i":68,"k":"L"},{"r":"HU","i":69,"k":"H"},{"r":"HU","i":70,"k":"L"},{"r":"HU","i":71,"k":"L"},{"r":"HU","i":72,"k":"L"},{"r":"HU","i":73,"k":"d"},{"r":"HU","i":74,"k":"E"},{"r":"HU","i":75,"k":"E"},{"r":"HU","i":76,"k":"E"},{"r":"HU","i":77,"k":"E"},{"r":"HU","i":78,"k":"E"},{"r":"HU","i":79,"k":"E"},{"r":"HU","i":80,"k":"E"},{"r":"HU","i":81,"k":"E"},
{"r":"TE","i":0,"k":"p"},{"r":"TE","i":1,"k":"q"},{"r":"TE","i":2,"k":"q"},{"r":"TE","i":3,"k":"p"},{"r":"TE","i":4,"k":"p"},{"r":"TE","i":5,"k":"p"},{"r":"TE","i":6,"k":"p"},{"r":"TE","i":7,"k":"p"},{"r":"TE","i":8,"k":"r"},{"r":"TE","i":9,"k":"r"},{"r":"TE","i":10,"k":"r"},{"r":"TE","i":11,"k":"r"},{"r":"TE","i":12,"k":"r"},{"r":"TE","i":13,"k":"r"},{"r":"TE","i":14,"k":"r"},{"r":"TE","i":15,"k":"p"},{"r":"TE","i":16,"k":"p"},{"r":"TE","i":17,"k":"p"},{"r":"TE","i":18,"k":"p"},{"r":"TE","i":19,"k":"p"},{"r":"TE","i":20,"k":"p"},{"r":"TE","i":21,"k":"q"},{"r":"TE","i":22,"k":"q"},{"r":"TE","i":23,"k":"q"},{"r":"TE","i":24,"k":"q"},{"r":"TE","i":25,"k":"q"},{"r":"TE","i":26,"k":"q"},{"r":"TE","i":27,"k":"p"},{"r":"TE","i":28,"k":"p"},{"r":"TE","i":29,"k":"p"},{"r":"TE","i":30,"k":"r"},{"r":"TE","i":31,"k":"r"},{"r":"TE","i":32,"k":"r"},{"r":"TE","i":33,"k":"r"},{"r":"TE","i":34,"k":"r"},{"r":"TE","i":35,"k":"r"},{"r":"TE","i":36,"k":"r"},{"r":"TE","i":37,"k":"r"},{"r":"TE","i":38,"k":"r"},{"r":"TE","i":39,"k":"p"},{"r":"TE","i":40,"k":"p"},{"r":"TE","i":41,"k":"q"},{"r":"TE","i":42,"k":"q"},{"r":"TE","i":43,"k":"q"},{"r":"TE","i":44,"k":"q"},{"r":"TE","i":45,"k":"q"},{"r":"TE","i":46,"k":"q"},{"r":"TE","i":47,"k":"q"},{"r":"TE","i":48,"k":"q"},{"r":"TE","i":49,"k":"q"},{"r":"TE","i":50,"k":"q"},{"r":"TE","i":51,"k":"q"},{"r":"TE","i":52,"k":"p"},{"r":"TE","i":53,"k":"p"},{"r":"TE","i":54,"k":"p"},{"r":"TE","i":55,"k":"p"},{"r":"TE","i":56,"k":"p"},{"r":"TE","i":57,"k":"p"},{"r":"TE","i":58,"k":"p"},{"r":"TE","i":59,"k":"p"},{"r":"TE","i":60,"k":"p"},{"r":"TE","i":61,"k":"p"},{"r":"TE","i":62,"k":"p"},{"r":"TE","i":63,"k":"p"},{"r":"TE","i":64,"k":"q"},{"r":"TE","i":65,"k":"q"},{"r":"TE","i":66,"k":"q"},{"r":"TE","i":67,"k":"e"},{"r":"TE","i":68,"k":"e"},{"r":"TE","i":69,"k":"e"},{"r":"TE","i":70,"k":"e"},{"r":"TE","i":71,"k":"q"},{"r":"TE","i":72,"k":"e"},{"r":"TE","i":73,"k":"q"},{"r":"TE","i":74,"k":"q"},{"r":"TE","i":75,"k":"q"},{"r":"TE","i":76,"k":"q"},{"r":"TE","i":77,"k":"q"},{"r":"TE","i":78,"k":"q"},{"r":"TE","i":79,"k":"q"},{"r":"TE","i":80,"k":"q"},{"r":"TE","i":81,"k":"q"},
{"r":"XE","i":0,"k":"3"},{"r":"XE","i":1,"k":"3"},{"r":"XE","i":2,"k":"C"},{"r":"XE","i":3,"k":"C"},{"r":"XE","i":4,"k":"1"},{"r":"XE","i":5,"k":"1"},{"r":"XE","i":6,"k":"1"},{"r":"XE","i":7,"k":"1"},{"r":"XE","i":8,"k":"B"},{"r":"XE","i":9,"k":"B"},{"r":"XE","i":10,"k":"C"},{"r":"XE","i":11,"k":"C"},{"r":"XE","i":12,"k":"9"},{"r":"XE","i":13,"k":"9"},{"r":"XE","i":14,"k":"C"},{"r":"XE","i":15,"k":"C"},{"r":"XE","i":16,"k":"B"},{"r":"XE","i":17,"k":"B"},{"r":"XE","i":18,"k":"3"},{"r":"XE","i":19,"k":"3"},{"r":"XE","i":20,"k":"7"},{"r":"XE","i":21,"k":"7"},{"r":"XE","i":22,"k":"1"},{"r":"XE","i":23,"k":"1"},{"r":"XE","i":24,"k":"0"},{"r":"XE","i":25,"k":"0"},{"r":"XE","i":26,"k":"1"},{"r":"XE","i":27,"k":"1"},{"r":"XE","i":28,"k":"1"},{"r":"XE","i":29,"k":"1"},{"r":"XE","i":30,"k":"0"},{"r":"XE","i":31,"k":"0"},{"r":"XE","i":32,"k":"0"},{"r":"XE","i":33,"k":"0"},{"r":"XE","i":34,"k":"0"},{"r":"XE","i":35,"k":"0"},{"r":"XE","i":36,"k":"0"},{"r":"XE","i":37,"k":"0"},{"r":"XE","i":38,"k":"3"},{"r":"XE","i":39,"k":"3"},{"r":"XE","i":40,"k":"3"},{"r":"XE","i":41,"k":"3"},{"r":"XE","i":42,"k":"0"},{"r":"XE","i":43,"k":"0"},{"r":"XE","i":44,"k":"1"},{"r":"XE","i":45,"k":"1"},{"r":"XE","i":46,"k":"W"},{"r":"XE","i":47,"k":"W"},
{"r":"XD","i":1,"k":"d2"},{"r":"XD","i":2,"k":"W"},{"r":"XD","i":3,"k":"W"},{"r":"XD","i":6,"k":"n"},{"r":"XD","i":7,"k":"b9"},{"r":"XD","i":9,"k":"d2"},{"r":"XD","i":10,"k":"W"},{"r":"XD","i":11,"k":"W"},{"r":"XD","i":14,"k":"n"},{"r":"XD","i":15,"k":"b9"},{"r":"XD","i":17,"k":"d2"},{"r":"XD","i":18,"k":"W"},{"r":"XD","i":19,"k":"W"},{"r":"XD","i":22,"k":"n"},{"r":"XD","i":23,"k":"b9"},{"r":"XD","i":25,"k":"d2"},{"r":"XD","i":26,"k":"W"},{"r":"XD","i":27,"k":"W"},{"r":"XD","i":30,"k":"n"},{"r":"XD","i":31,"k":"b9"},{"r":"XD","i":33,"k":"d2"},{"r":"XD","i":34,"k":"W"},{"r":"XD","i":35,"k":"W"},{"r":"XD","i":38,"k":"n"},{"r":"XD","i":39,"k":"b9"},{"r":"XD","i":41,"k":"d2"},{"r":"XD","i":42,"k":"W"},{"r":"XD","i":43,"k":"W"},{"r":"XD","i":46,"k":"n"},{"r":"XD","i":47,"k":"b9"}
]}},
{"mark":{"type":"rect","width":2,"height":8,"xOffset":7},"data":{"values":[
{"r":"SE","i":0,"k":"9"},{"r":"SE","i":2,"k":"7"},{"r":"SE","i":3,"k":"7"},{"r":"SE","i":5,"k":"7"},{"r":"SE","i":6,"k":"7"},{"r":"SE","i":8,"k":"4"},{"r":"SE","i":9,"k":"4"},{"r":"SE","i":11,"k":"4"},{"r":"SE","i":12,"k":"4"},{"r":"SE","i":14,"k":"2"},{"r":"SE","i":15,"k":"2"},{"r":"SE","i":17,"k":"2"},{"r":"SE","i":18,"k":"2"},{"r":"SE","i":20,"k":"2"},{"r":"SE","i":21,"k":"2"},{"r":"SE","i":23,"k":"2"},{"r":"SE","i":24,"k":"2"},{"r":"SE","i":26,"k":"4"},{"r":"SE","i":27,"k":"4"},{"r":"SE","i":29,"k":"2"},{"r":"SE","i":30,"k":"2"},{"r":"SE","i":32,"k":"2"},{"r":"SE","i":33,"k":"2"},{"r":"SE","i":35,"k":"0"},{"r":"SE","i":36,"k":"0"},{"r":"SE","i":38,"k":"2"},{"r":"SE","i":39,"k":"2"},{"r":"SE","i":41,"k":"2"},{"r":"SE","i":42,"k":"2"},{"r":"SE","i":44,"k":"2"},{"r":"SE","i":45,"k":"2"},{"r":"SE","i":47,"k":"4"},{"r":"SE","i":48,"k":"4"},{"r":"SE","i":50,"k":"4"},{"r":"SE","i":51,"k":"4"},{"r":"SE","i":53,"k":"9"},{"r":"SE","i":54,"k":"9"},{"r":"SE","i":56,"k":"W"},{"r":"SE","i":57,"k":"W"},{"r":"SE","i":59,"k":"2"},{"r":"SE","i":60,"k":"2"},{"r":"SE","i":62,"k":"2"},{"r":"SE","i":63,"k":"2"},{"r":"SE","i":65,"k":"2"},{"r":"SE","i":66,"k":"2"},{"r":"SE","i":68,"k":"7"},{"r":"SE","i":69,"k":"7"},{"r":"SE","i":71,"k":"7"},{"r":"SE","i":72,"k":"7"},{"r":"SE","i":74,"k":"4"},{"r":"SE","i":75,"k":"4"},{"r":"SE","i":77,"k":"4"},{"r":"SE","i":78,"k":"4"},{"r":"SE","i":80,"k":"7"},
{"r":"EC","i":58,"k":"C"},{"r":"EC","i":59,"k":"C"},{"r":"EC","i":60,"k":"C"},{"r":"EC","i":61,"k":"C"},{"r":"EC","i":62,"k":"C"},{"r":"EC","i":64,"k":"C"},{"r":"EC","i":65,"k":"C"},{"r":"EC","i":66,"k":"C"},{"r":"EC","i":67,"k":"C"},{"r":"EC","i":68,"k":"C"},{"r":"EC","i":70,"k":"4"},{"r":"EC","i":71,"k":"4"},{"r":"EC","i":72,"k":"4"},{"r":"EC","i":73,"k":"4"},{"r":"EC","i":74,"k":"4"},{"r":"EC","i":76,"k":"1"},{"r":"EC","i":77,"k":"1"},{"r":"EC","i":78,"k":"1"},{"r":"EC","i":79,"k":"1"},{"r":"EC","i":80,"k":"1"},
{"r":"XE","i":0,"k":"3"},{"r":"XE","i":2,"k":"C"},{"r":"XE","i":4,"k":"1"},{"r":"XE","i":6,"k":"1"},{"r":"XE","i":8,"k":"B"},{"r":"XE","i":10,"k":"C"},{"r":"XE","i":12,"k":"9"},{"r":"XE","i":14,"k":"C"},{"r":"XE","i":16,"k":"B"},{"r":"XE","i":18,"k":"3"},{"r":"XE","i":20,"k":"7"},{"r":"XE","i":22,"k":"1"},{"r":"XE","i":24,"k":"0"},{"r":"XE","i":26,"k":"1"},{"r":"XE","i":28,"k":"1"},{"r":"XE","i":30,"k":"0"},{"r":"XE","i":32,"k":"0"},{"r":"XE","i":34,"k":"0"},{"r":"XE","i":36,"k":"0"},{"r":"XE","i":38,"k":"3"},{"r":"XE","i":40,"k":"3"},{"r":"XE","i":42,"k":"0"},{"r":"XE","i":44,"k":"1"},{"r":"XE","i":46,"k":"W"}
]}},
{"mark":{"type":"rect","height":12},"encoding":{"xOffset":{"field":"s","type":"ordinal","scale":{"domain":[0,1,2,3],"paddingInner":0,"paddingOuter":0}}},"data":{"values":[
{"r":"DK","i":2,"s":0,"k":"d3"},{"r":"DK","i":2,"s":1,"k":"d4"},{"r":"DK","i":2,"s":2,"k":"d5"},{"r":"DK","i":2,"s":3,"k":"d6"},{"r":"DK","i":4,"s":0,"k":"b2"},{"r":"DK","i":4,"s":1,"k":"b3"},{"r":"DK","i":4,"s":2,"k":"k1"},{"r":"DK","i":4,"s":3,"k":"k2"},{"r":"DK","i":11,"s":0,"k":"b3"},{"r":"DK","i":11,"s":1,"k":"b2"},{"r":"DK","i":11,"s":2,"k":"b1"},{"r":"DK","i":11,"s":3,"k":"b0"},{"r":"DK","i":13,"s":0,"k":"t"},{"r":"DK","i":13,"s":1,"k":"d6"},{"r":"DK","i":13,"s":2,"k":"d5"},{"r":"DK","i":13,"s":3,"k":"d4"},
{"r":"DK","i":26,"s":0,"k":"d3"},{"r":"DK","i":26,"s":1,"k":"d4"},{"r":"DK","i":26,"s":2,"k":"d5"},{"r":"DK","i":26,"s":3,"k":"d6"},{"r":"DK","i":28,"s":0,"k":"b2"},{"r":"DK","i":28,"s":1,"k":"b3"},{"r":"DK","i":28,"s":2,"k":"k1"},{"r":"DK","i":28,"s":3,"k":"k2"},{"r":"DK","i":35,"s":0,"k":"b3"},{"r":"DK","i":35,"s":1,"k":"b2"},{"r":"DK","i":35,"s":2,"k":"b1"},{"r":"DK","i":35,"s":3,"k":"b0"},{"r":"DK","i":37,"s":0,"k":"t"},{"r":"DK","i":37,"s":1,"k":"d6"},{"r":"DK","i":37,"s":2,"k":"d5"},{"r":"DK","i":37,"s":3,"k":"d4"},
{"r":"DK","i":50,"s":0,"k":"d3"},{"r":"DK","i":50,"s":1,"k":"d4"},{"r":"DK","i":50,"s":2,"k":"d5"},{"r":"DK","i":50,"s":3,"k":"d6"},{"r":"DK","i":52,"s":0,"k":"b2"},{"r":"DK","i":52,"s":1,"k":"b3"},{"r":"DK","i":52,"s":2,"k":"k1"},{"r":"DK","i":52,"s":3,"k":"k2"},{"r":"DK","i":61,"s":0,"k":"t"},{"r":"DK","i":61,"s":1,"k":"d6"},{"r":"DK","i":61,"s":2,"k":"d5"},{"r":"DK","i":61,"s":3,"k":"d4"},
{"r":"DK","i":74,"s":0,"k":"d4"},{"r":"DK","i":74,"s":1,"k":"d5"},{"r":"DK","i":74,"s":2,"k":"d6"},{"r":"DK","i":74,"s":3,"k":"t"},{"r":"DK","i":76,"s":0,"k":"b2"},{"r":"DK","i":76,"s":1,"k":"b3"},{"r":"DK","i":76,"s":2,"k":"k1"},{"r":"DK","i":76,"s":3,"k":"k2"},
{"r":"XD","i":0,"s":0,"k":"b2"},{"r":"XD","i":0,"s":1,"k":"b2"},{"r":"XD","i":0,"s":2,"k":"d5"},{"r":"XD","i":0,"s":3,"k":"d4"},{"r":"XD","i":4,"s":0,"k":"d1"},{"r":"XD","i":4,"s":1,"k":"d3"},{"r":"XD","i":4,"s":2,"k":"d4"},{"r":"XD","i":4,"s":3,"k":"d5"},{"r":"XD","i":5,"s":0,"k":"b2"},{"r":"XD","i":5,"s":1,"k":"b2"},{"r":"XD","i":5,"s":2,"k":"k1"},{"r":"XD","i":5,"s":3,"k":"k2"},
{"r":"XD","i":8,"s":0,"k":"b2"},{"r":"XD","i":8,"s":1,"k":"b2"},{"r":"XD","i":8,"s":2,"k":"d5"},{"r":"XD","i":8,"s":3,"k":"d4"},{"r":"XD","i":12,"s":0,"k":"d1"},{"r":"XD","i":12,"s":1,"k":"d3"},{"r":"XD","i":12,"s":2,"k":"d4"},{"r":"XD","i":12,"s":3,"k":"d5"},{"r":"XD","i":13,"s":0,"k":"b2"},{"r":"XD","i":13,"s":1,"k":"b2"},{"r":"XD","i":13,"s":2,"k":"k1"},{"r":"XD","i":13,"s":3,"k":"k2"},
{"r":"XD","i":16,"s":0,"k":"b2"},{"r":"XD","i":16,"s":1,"k":"b2"},{"r":"XD","i":16,"s":2,"k":"d5"},{"r":"XD","i":16,"s":3,"k":"d4"},{"r":"XD","i":20,"s":0,"k":"d1"},{"r":"XD","i":20,"s":1,"k":"d3"},{"r":"XD","i":20,"s":2,"k":"d4"},{"r":"XD","i":20,"s":3,"k":"d5"},{"r":"XD","i":21,"s":0,"k":"b2"},{"r":"XD","i":21,"s":1,"k":"b2"},{"r":"XD","i":21,"s":2,"k":"k1"},{"r":"XD","i":21,"s":3,"k":"k2"},
{"r":"XD","i":24,"s":0,"k":"b2"},{"r":"XD","i":24,"s":1,"k":"b2"},{"r":"XD","i":24,"s":2,"k":"d5"},{"r":"XD","i":24,"s":3,"k":"d4"},{"r":"XD","i":28,"s":0,"k":"d1"},{"r":"XD","i":28,"s":1,"k":"d3"},{"r":"XD","i":28,"s":2,"k":"d4"},{"r":"XD","i":28,"s":3,"k":"d5"},{"r":"XD","i":29,"s":0,"k":"b2"},{"r":"XD","i":29,"s":1,"k":"b2"},{"r":"XD","i":29,"s":2,"k":"k1"},{"r":"XD","i":29,"s":3,"k":"k2"},
{"r":"XD","i":32,"s":0,"k":"b2"},{"r":"XD","i":32,"s":1,"k":"b2"},{"r":"XD","i":32,"s":2,"k":"d5"},{"r":"XD","i":32,"s":3,"k":"d4"},{"r":"XD","i":36,"s":0,"k":"d1"},{"r":"XD","i":36,"s":1,"k":"d3"},{"r":"XD","i":36,"s":2,"k":"d4"},{"r":"XD","i":36,"s":3,"k":"d5"},{"r":"XD","i":37,"s":0,"k":"b2"},{"r":"XD","i":37,"s":1,"k":"b2"},{"r":"XD","i":37,"s":2,"k":"k1"},{"r":"XD","i":37,"s":3,"k":"k2"},
{"r":"XD","i":40,"s":0,"k":"b2"},{"r":"XD","i":40,"s":1,"k":"b2"},{"r":"XD","i":40,"s":2,"k":"d5"},{"r":"XD","i":40,"s":3,"k":"d4"},{"r":"XD","i":44,"s":0,"k":"d1"},{"r":"XD","i":44,"s":1,"k":"d3"},{"r":"XD","i":44,"s":2,"k":"d4"},{"r":"XD","i":44,"s":3,"k":"d5"},{"r":"XD","i":45,"s":0,"k":"b2"},{"r":"XD","i":45,"s":1,"k":"b2"},{"r":"XD","i":45,"s":2,"k":"k1"},{"r":"XD","i":45,"s":3,"k":"k2"}
]}},
{"mark":{"type":"rect","width":2,"height":172,"xOffset":-6},"data":{"values":[{"r":"RL","i":7,"k":"R"},{"r":"RL","i":31,"k":"R"},{"r":"RL","i":55,"k":"R"},{"r":"RL","i":79,"k":"R"}]}},
{"mark":{"type":"rect","width":2,"height":44,"xOffset":-6},"data":{"values":[{"r":"XE","i":7,"k":"R"},{"r":"XE","i":15,"k":"R"},{"r":"XE","i":23,"k":"R"},{"r":"XE","i":31,"k":"R"},{"r":"XE","i":39,"k":"R"},{"r":"XE","i":47,"k":"R"}]}},
{"mark":{"type":"rect","width":12,"height":77,"xOffset":6,"yOffset":0.5},"data":{"values":[{"r":"TR","i":-10,"k":"S"}]}},
{"mark":{"type":"rect","width":12,"height":62,"xOffset":6,"yOffset":0.5},"data":{"values":[{"r":"GB","i":-10,"k":"U"}]}},
{"mark":{"type":"rect","width":12,"height":46,"xOffset":6,"yOffset":0.5},"data":{"values":[{"r":"XE","i":-10,"k":"S"}]}},
{"mark":{"type":"rect","width":166,"height":15,"xOffset":4,"yOffset":1.5},"data":{"values":[{"r":"F","i":51,"k":"W"}]}},
{"mark":{"type":"rect","width":8,"height":15,"xOffset":-5,"yOffset":1.5},"data":{"values":[{"r":"F","i":46,"k":"R"}]}},
{"mark":{"type":"rect","width":8,"height":15,"xOffset":0.5,"yOffset":1.5},"data":{"values":[{"r":"F","i":47,"k":"R"}]}},
{"mark":{"type":"point","filled":true,"opacity":1,"size":121,"xOffset":5,"yOffset":1.5,"shape":"M0,-1 L.2,-.5 L.45,-.65 L.35,-.15 L.9,-.25 L.7,.1 L.95,.3 L.35,.55 L.4,.8 L.05,.7 L.05,1 L-.05,1 L-.05,.7 L-.4,.8 L-.35,.55 L-.95,.3 L-.7,.1 L-.9,-.25 L-.35,-.15 L-.45,-.65 L-.2,-.5 Z"},"data":{"values":[{"r":"F","i":46,"k":"R"}]}},
{"mark":{"type":"text","font":"Liberation Mono","fontSize":15,"align":"left","baseline":"middle","dy":-3},"encoding":{"text":{"field":"t"}},"data":{"values":[{"r":"CC","i":-9,"t":"Cloud Cover:","k":"w"},{"r":"EC","i":-9,"t":"ECMWF Cloud:","k":"w"},{"r":"TR","i":-9,"t":"Transparency:","k":"w"},{"r":"SE","i":-9,"t":"Seeing:","k":"w"},{"r":"DK","i":-9,"t":"Darkness:","k":"x"},{"r":"SM","i":-9,"t":"Smoke:","k":"w"},{"r":"WI","i":-9,"t":"Wind:","k":"w"},{"r":"HU","i":-9,"t":"Humidity:","k":"w"},{"r":"TE","i":-9,"t":"Temperature:","k":"w"}]}},
{"mark":{"type":"text","font":"Liberation Mono","fontSize":15,"align":"left","baseline":"middle","dy":-2},"encoding":{"text":{"field":"t"}},"data":{"values":[{"r":"XC","i":-9,"t":"Cloud Cover:","k":"w"},{"r":"XE","i":-9,"t":"ECMWF Cloud:","k":"w"},{"r":"XD","i":-9,"t":"Darkness:","k":"x"}]}},
{"mark":{"type":"text","font":"Liberation Mono","fontSize":15,"align":"left","baseline":"middle"},"encoding":{"text":{"field":"t"}},"data":{"values":[{"r":"XT","i":-10,"t":"EXTENDED Forecast. Each block is 3 hours. (A sponsored feature)","k":"R"}]}},
{"mark":{"type":"text","font":"Liberation Mono","fontSize":15,"align":"left","baseline":"middle","xOffset":2},"encoding":{"text":{"field":"t"}},"data":{"values":[{"r":"D1","i":-10,"t":"2026-08-03","k":"g"},{"r":"D2","i":-10,"t":"2026-08-07","k":"v"}]}},
{"mark":{"type":"text","font":"Liberation Mono","fontSize":15,"align":"left","baseline":"middle","xOffset":2,"dy":-2},"encoding":{"text":{"field":"t"}},"data":{"values":[{"r":"H2","i":-10,"t":"Local Time","k":"l"},{"r":"X2","i":-10,"t":"Local Time","k":"l"}]}},
{"mark":{"type":"text","font":"Liberation Mono","fontSize":15,"align":"left","baseline":"middle","xOffset":-5},"encoding":{"text":{"field":"t"}},"data":{"values":[{"r":"D1","i":0,"t":"Monday, 3","k":"g"},{"r":"D1","i":17,"t":"Tuesday, 4","k":"y"},{"r":"D1","i":41,"t":"Wednesday, 5","k":"s"},{"r":"D1","i":65,"t":"Thursday, 6","k":"m"},{"r":"D1","i":79,"t":"Fri","k":"v"}]}},
{"mark":{"type":"text","font":"Liberation Mono","fontSize":15,"align":"left","baseline":"middle","xOffset":3},"encoding":{"text":{"field":"t"}},"data":{"values":[{"r":"D2","i":1,"t":"Fri, 7","k":"v"},{"r":"D2","i":9,"t":"Sat, 8","k":"g"},{"r":"D2","i":17,"t":"Sun, 9","k":"y"},{"r":"D2","i":25,"t":"Mon, 10","k":"s"},{"r":"D2","i":33,"t":"Tue, 11","k":"m"},{"r":"D2","i":41,"t":"Wed, 12","k":"v"}]}},
{"mark":{"type":"text","font":"Liberation Mono","fontSize":15,"align":"left","baseline":"middle","xOffset":6},"encoding":{"text":{"field":"t"}},"data":{"values":[{"r":"F","i":14,"t":"© 2026 Attilla Danko\u00a0\u00a0forecast: A.Rahill\u00a0\u00a0data:","k":"w"}]}},
{"mark":{"type":"text","font":"Liberation Mono","fontSize":20,"fontWeight":"bold","align":"left","baseline":"middle","xOffset":-6,"yOffset":-3},"encoding":{"text":{"field":"t"}},"data":{"values":[{"r":"T","i":14,"t":"Vanderbilt Planetarium & Observatory","k":"y"}]}},
{"mark":{"type":"text","font":"Liberation Mono","fontSize":20,"fontWeight":"bold","align":"left","baseline":"middle","xOffset":5,"yOffset":-3},"encoding":{"text":{"field":"t"}},"data":{"values":[{"r":"T","i":45,"t":"Clear Sky Chart","k":"C2"}]}},
{"mark":{"type":"text","font":"Liberation Mono","fontSize":7.7,"align":"left","baseline":"middle","xOffset":4,"dy":-1},"encoding":{"text":{"field":"t"}},"data":{"values":[{"r":"G1","i":-10,"t":"(GMT -4+0)","k":"l"},{"r":"G2","i":-10,"t":"(GMT -4+0)","k":"l"}]}},
{"mark":{"type":"text","font":"Liberation Mono","fontSize":10,"align":"center","baseline":"middle","angle":270,"xOffset":6,"yOffset":0.5},"encoding":{"text":{"field":"t"}},"data":{"values":[{"r":"TR","i":-10,"t":"--- Sky ---","k":"y"},{"r":"GB","i":-10,"t":"- Ground -","k":"w"},{"r":"XE","i":-10,"t":"- Sky -","k":"y"}]}},
{"mark":{"type":"text","font":"Liberation Sans","fontSize":9,"align":"left","baseline":"middle","xOffset":4,"dy":2},"encoding":{"text":{"field":"t"}},"data":{"values":[{"r":"L1","i":48,"t":"Environment","k":"K"}]}},
{"mark":{"type":"text","font":"Liberation Sans","fontSize":9,"align":"left","baseline":"middle","xOffset":4,"dy":1},"encoding":{"text":{"field":"t"}},"data":{"values":[{"r":"L2","i":48,"t":"Canada","k":"K"}]}},
{"mark":{"type":"text","font":"Liberation Sans","fontSize":9,"align":"left","baseline":"middle","xOffset":-1,"dy":2},"encoding":{"text":{"field":"t"}},"data":{"values":[{"r":"L1","i":53,"t":"Environnement","k":"K"}]}},
{"mark":{"type":"text","font":"Liberation Sans","fontSize":9,"align":"left","baseline":"middle","xOffset":-1,"dy":1},"encoding":{"text":{"field":"t"}},"data":{"values":[{"r":"L2","i":53,"t":"Canada","k":"K"}]}},
{"mark":{"type":"text","font":"Liberation Mono","fontSize":15,"align":"center","baseline":"middle","dy":-2},"encoding":{"text":{"field":"t"}},"data":{"name":"digits"},"transform":[{"filter":"datum.r=='H1'||datum.r=='X1'"}]},
{"mark":{"type":"text","font":"Liberation Mono","fontSize":15,"align":"center","baseline":"middle","dy":-1},"encoding":{"text":{"field":"t"}},"data":{"name":"digits"},"transform":[{"filter":"datum.r=='H2'||datum.r=='X2'"}]}
]}
